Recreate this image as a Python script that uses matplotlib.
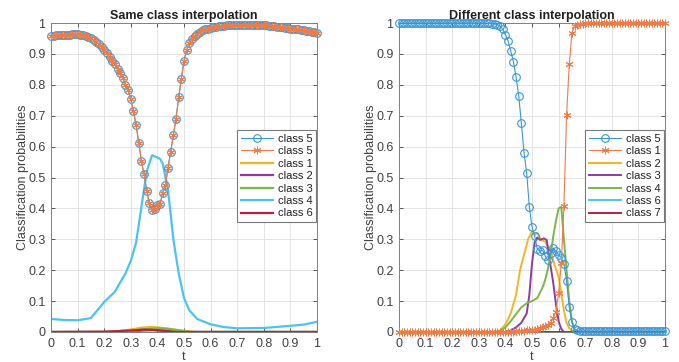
import numpy as np
import matplotlib
matplotlib.use("Agg")
import matplotlib.pyplot as plt

plt.rcParams['font.family'] = ['Liberation Sans', 'DejaVu Sans']

# sample grid for the marker series (t step 0.01)
t = np.round(np.arange(101) * 0.01, 2)

# ---- left panel: same class interpolation ----
same_c5 = [0.957, 0.958, 0.960, 0.961, 0.961, 0.962, 0.962, 0.962, 0.963, 0.963,
           0.963, 0.962, 0.961, 0.958, 0.954, 0.950, 0.945, 0.938, 0.931, 0.922,
           0.914, 0.903, 0.890, 0.878, 0.866, 0.852, 0.838, 0.822, 0.800, 0.783,
           0.753, 0.715, 0.669, 0.613, 0.552, 0.510, 0.457, 0.416, 0.395, 0.399,
           0.411, 0.414, 0.451, 0.476, 0.532, 0.583, 0.638, 0.690, 0.759, 0.820,
           0.877, 0.913, 0.934, 0.948, 0.958, 0.966, 0.972, 0.976, 0.979, 0.982,
           0.984, 0.986, 0.988, 0.989, 0.990, 0.991, 0.992, 0.992, 0.993, 0.993,
           0.993, 0.993, 0.993, 0.993, 0.993, 0.993, 0.993, 0.993, 0.993, 0.993,
           0.993, 0.992, 0.991, 0.990, 0.989, 0.988, 0.987, 0.986, 0.985, 0.984,
           0.982, 0.981, 0.980, 0.979, 0.978, 0.976, 0.975, 0.974, 0.972, 0.971,
           0.969]

same_t1 = [0, 0.2, 0.25, 0.3, 0.34, 0.37, 0.40, 0.44, 0.48, 0.52, 0.55, 1]
same_c1 = [0, 0, 0.002, 0.008, 0.014, 0.016, 0.015, 0.011, 0.006, 0.002, 0, 0]
same_t2 = [0, 0.25, 0.3, 0.35, 0.38, 0.42, 0.46, 0.5, 1]
same_c2 = [0, 0, 0.002, 0.005, 0.006, 0.005, 0.002, 0, 0]
same_t3 = [0, 0.25, 0.3, 0.35, 0.40, 0.44, 0.48, 0.52, 1]
same_c3 = [0, 0, 0.003, 0.008, 0.012, 0.010, 0.005, 0, 0]
same_t4 = [0, 0.05, 0.1, 0.15, 0.2, 0.24, 0.28, 0.3, 0.32, 0.34, 0.36, 0.38,
           0.40, 0.41, 0.42, 0.44, 0.46, 0.48, 0.50, 0.52, 0.55, 0.6, 0.65,
           0.7, 0.8, 0.9, 0.95, 1.0]
same_c4 = [0.042, 0.039, 0.038, 0.045, 0.097, 0.130, 0.190, 0.230, 0.290, 0.405,
           0.520, 0.572, 0.565, 0.560, 0.545, 0.460, 0.300, 0.190, 0.110, 0.070,
           0.042, 0.025, 0.016, 0.012, 0.013, 0.020, 0.024, 0.033]
same_t6 = [0, 0.2, 0.25, 0.3, 0.35, 0.38, 0.42, 0.46, 1]
same_c6 = [0, 0.001, 0.003, 0.005, 0.008, 0.007, 0.004, 0, 0]

# ---- right panel: different class interpolation ----
diff_c5 = ([1.000] * 33 +
           [0.999, 0.999, 0.998, 0.997, 0.995, 0.990, 0.980,
            0.962, 0.942, 0.910, 0.875, 0.825, 0.765, 0.675, 0.580, 0.515, 0.405,
            0.340, 0.312, 0.268, 0.262, 0.265, 0.245, 0.232, 0.255, 0.272, 0.262,
            0.250, 0.240, 0.220, 0.165, 0.080, 0.033, 0.010, 0.005, 0.003, 0.003] +
           [0.003] * 31)
diff_c1 = ([0.0] * 43 +
           [0.001, 0.002, 0.002, 0.003, 0.004, 0.005, 0.006,
            0.007, 0.008, 0.010, 0.013, 0.016, 0.020, 0.024, 0.030, 0.044, 0.066,
            0.125, 0.222, 0.408, 0.702, 0.866, 0.967, 0.990, 0.995, 0.997, 0.998] +
           [0.999] * 10 + [1.000] * 21)

diff_t2 = [0, 0.36, 0.38, 0.40, 0.42, 0.44, 0.455, 0.465, 0.475, 0.485, 0.50,
           0.51, 0.52, 0.535, 0.55, 0.57, 0.585, 0.60, 0.61, 0.62, 0.63, 0.64,
           0.655, 1]
diff_c2 = [0, 0, 0.005, 0.025, 0.06, 0.12, 0.20, 0.235, 0.265, 0.300, 0.325,
           0.314, 0.321, 0.298, 0.292, 0.265, 0.217, 0.179, 0.125, 0.07, 0.03,
           0.012, 0, 0]
diff_t3 = [0, 0.40, 0.42, 0.44, 0.46, 0.48, 0.49, 0.50, 0.51, 0.52, 0.53, 0.545,
           0.555, 0.565, 0.58, 0.59, 0.60, 0.61, 0.62, 1]
diff_c3 = [0, 0, 0.005, 0.015, 0.030, 0.060, 0.120, 0.222, 0.290, 0.306, 0.298,
           0.303, 0.298, 0.240, 0.158, 0.090, 0.035, 0.010, 0, 0]
diff_t4 = [0, 0.36, 0.38, 0.40, 0.42, 0.44, 0.46, 0.48, 0.50, 0.52, 0.54, 0.55,
           0.56, 0.57, 0.58, 0.59, 0.60, 0.61, 0.62, 0.63, 0.64, 0.65, 0.66,
           0.67, 1]
diff_c4 = [0, 0, 0.004, 0.015, 0.035, 0.058, 0.080, 0.093, 0.100, 0.110, 0.145,
           0.170, 0.205, 0.250, 0.310, 0.360, 0.400, 0.405, 0.300, 0.200, 0.100,
           0.035, 0.008, 0, 0]
diff_t6 = [0, 1]
diff_c6 = [0, 0]
diff_t7 = [0, 1]
diff_c7 = [0, 0]

BLUE = '#3a96d4'
ORANGE = '#ef7b47'
YELLOW = '#f5b523'
PURPLE = '#8e3a9e'
GREEN = '#7ab648'
CYAN = '#4cc3ef'
RED = '#b5233b'

fig = plt.figure(figsize=(6.79, 3.62), dpi=100)
axL = fig.add_axes([51 / 679, 30 / 362, 266 / 679, 309 / 362])
axR = fig.add_axes([399 / 679, 30 / 362, 266 / 679, 309 / 362])


def marker_lines(ax, y1, y2, lab1, lab2):
    ax.plot(t, y1, '-', marker='o', color=BLUE, lw=0.8, ms=5.5, mfc='none',
            mew=0.8, label=lab1, clip_on=False, zorder=3)
    # MATLAB-like asterisk marker
    ax.plot(t, y2, '-', marker=(6, 2, 0), color=ORANGE, lw=0.8, ms=5.5,
            mew=0.7, label=lab2, clip_on=False, zorder=3)


def style(ax, title):
    ax.set_xlim(0, 1)
    ax.set_ylim(0, 1)
    ticks = np.round(np.arange(11) * 0.1, 1)
    labs = ['0'] + ['%.1f' % v for v in ticks[1:-1]] + ['1']
    ax.set_xticks(ticks)
    ax.set_xticklabels(labs)
    ax.set_yticks(ticks)
    ax.set_yticklabels(labs)
    ax.grid(True, color='#e3e3e3', lw=0.7)
    ax.set_axisbelow(True)
    ax.tick_params(direction='in', length=3, width=0.6, top=True, right=True,
                   labelsize=9, colors='#404040', pad=4)
    for s in ax.spines.values():
        s.set_color('#808080')
        s.set_linewidth(0.7)
    ax.set_title(title, fontsize=9, fontweight='bold', pad=3, color='#202020')
    ax.set_xlabel('t', fontsize=9, color='#404040', labelpad=1)
    ax.set_ylabel('Classification probabilities', fontsize=9, color='#404040',
                  labelpad=-1)
    leg = ax.legend(loc='upper left', bbox_to_anchor=(0.70, 0.654),
                    borderaxespad=0, fontsize=8, handlelength=2.9,
                    labelspacing=0.22, handletextpad=0.4, borderpad=0.35,
                    fancybox=False, framealpha=1)
    leg.get_frame().set_edgecolor('#7a7a7a')
    leg.get_frame().set_linewidth(0.8)
    for txt in leg.get_texts():
        txt.set_color('#202020')


# left
marker_lines(axL, same_c5, same_c5, 'class 5', 'class 5')
axL.plot(same_t1, same_c1, color=YELLOW, lw=1.6, label='class 1')
axL.plot(same_t2, same_c2, color=PURPLE, lw=1.6, label='class 2')
axL.plot(same_t3, same_c3, color=GREEN, lw=1.6, label='class 3')
axL.plot(same_t4, same_c4, color=CYAN, lw=1.6, label='class 4')
axL.plot(same_t6, same_c6, color=RED, lw=1.6, label='class 6')
style(axL, 'Same class interpolation')

# right
marker_lines(axR, diff_c5, diff_c1, 'class 5', 'class 1')
axR.plot(diff_t2, diff_c2, color=YELLOW, lw=1.4, label='class 2')
axR.plot(diff_t3, diff_c3, color=PURPLE, lw=1.4, label='class 3')
axR.plot(diff_t4, diff_c4, color=GREEN, lw=1.4, label='class 4')
axR.plot(diff_t6, diff_c6, color=CYAN, lw=1.4, label='class 6')
axR.plot(diff_t7, diff_c7, color=RED, lw=1.4, label='class 7')
style(axR, 'Different class interpolation')

fig.savefig('out.png', dpi=100)
